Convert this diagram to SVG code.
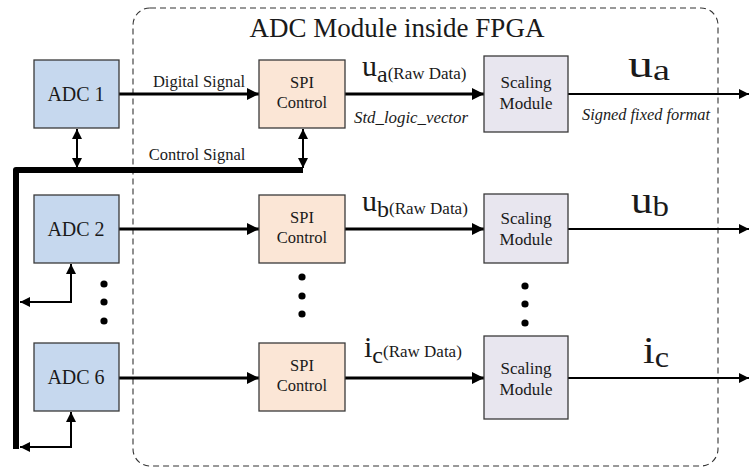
<svg xmlns="http://www.w3.org/2000/svg" width="749" height="468" viewBox="0 0 749 468">
<defs>
<marker id="ah" markerUnits="userSpaceOnUse" markerWidth="13" markerHeight="12" refX="12" refY="6" orient="auto-start-reverse"><path d="M0,0 L12,6 L0,12 z" fill="#000"/></marker>
<marker id="as" markerUnits="userSpaceOnUse" markerWidth="11" markerHeight="10" refX="10" refY="5" orient="auto-start-reverse"><path d="M0,0 L10,5 L0,10 z" fill="#000"/></marker>
</defs>
<rect width="749" height="468" fill="#fff"/>
<g id="fpga">
<rect x="133" y="8" width="585" height="458" rx="17" fill="none" stroke="#333" stroke-width="1.1" stroke-dasharray="6,4"/>
<text x="397" y="37" font-family="Liberation Serif" font-size="27" text-anchor="middle" fill="#1a1a1a">ADC Module inside FPGA</text>
</g>
<g id="connectors" stroke="#000" fill="none">
<path d="M303,170 L16,170 L16,449" stroke-width="6" stroke-linejoin="round"/>
<g stroke-width="2" marker-start="url(#as)" marker-end="url(#as)">
<line x1="77" y1="129" x2="77" y2="168"/>
<line x1="303" y1="129" x2="303" y2="168"/>
<path d="M71,264 L71,302 L20,302"/>
<path d="M71,412 L71,447 L20,447"/>
</g>
<g stroke-width="3" marker-end="url(#ah)">
<line x1="119" y1="94" x2="259" y2="94"/>
<line x1="119" y1="229" x2="259" y2="229"/>
<line x1="119" y1="378" x2="259" y2="378"/>
<line x1="345" y1="94" x2="484" y2="94"/>
<line x1="345" y1="229" x2="484" y2="229"/>
<line x1="345" y1="378" x2="484" y2="378"/>
</g>
<g stroke-width="2" marker-end="url(#as)">
<line x1="568" y1="94" x2="749" y2="94"/>
<line x1="568" y1="229" x2="749" y2="229"/>
<line x1="568" y1="378" x2="749" y2="378"/>
</g>
<g fill="#000" stroke="none">
<circle cx="104" cy="284" r="3.6"/><circle cx="104" cy="302" r="3.6"/><circle cx="104" cy="321" r="3.6"/>
<circle cx="302" cy="277" r="3.6"/><circle cx="302" cy="296" r="3.6"/><circle cx="302" cy="314" r="3.6"/>
<circle cx="525" cy="286" r="3.6"/><circle cx="525" cy="304" r="3.6"/><circle cx="525" cy="323" r="3.6"/>
</g>
</g>
<g id="labels" fill="#1a1a1a">
<text x="199" y="87" font-family="Liberation Serif" font-size="16.5" text-anchor="middle">Digital Signal</text>
<text x="197" y="160" font-family="Liberation Serif" font-size="16.5" text-anchor="middle">Control Signal</text>
<text x="411" y="123" font-family="Liberation Serif" font-size="16" font-style="italic" text-anchor="middle" textLength="114" lengthAdjust="spacingAndGlyphs">Std_logic_vector</text>
<text x="646" y="120" font-family="Liberation Serif" font-size="16" font-style="italic" text-anchor="middle" textLength="128" lengthAdjust="spacingAndGlyphs">Signed fixed format</text>
<text x="362" y="76" font-family="Liberation Serif"><tspan font-size="30">u</tspan><tspan font-size="24" dy="6">a</tspan><tspan font-size="17" dy="-3">(Raw Data)</tspan></text>
<text x="362" y="211" font-family="Liberation Serif"><tspan font-size="30">u</tspan><tspan font-size="24" dy="6">b</tspan><tspan font-size="17" dy="-3">(Raw Data)</tspan></text>
<text x="364" y="357" font-family="Liberation Serif"><tspan font-size="30">i</tspan><tspan font-size="24" dy="6">c</tspan><tspan font-size="17" dy="-6">(Raw Data)</tspan></text>
<text x="628" y="77" font-family="Liberation Serif" font-size="38" textLength="42" lengthAdjust="spacingAndGlyphs">u<tspan font-size="29" dy="3">a</tspan></text>
<text x="631" y="213" font-family="Liberation Serif" font-size="38" textLength="38" lengthAdjust="spacingAndGlyphs">u<tspan font-size="29" dy="3">b</tspan></text>
<text x="643" y="363" font-family="Liberation Serif" font-size="38" textLength="26" lengthAdjust="spacingAndGlyphs">i<tspan font-size="29" dy="4">c</tspan></text>
</g>
<g id="adc1"><rect x="34" y="60" width="85" height="68" fill="#c6d8ee" stroke="#3a3a3a" stroke-width="1.3"/><text x="76" y="101" font-family="Liberation Serif" font-size="20" text-anchor="middle" fill="#1a1a1a">ADC 1</text></g>
<g id="adc2"><rect x="34" y="195" width="85" height="68" fill="#c6d8ee" stroke="#3a3a3a" stroke-width="1.3"/><text x="76" y="236" font-family="Liberation Serif" font-size="20" text-anchor="middle" fill="#1a1a1a">ADC 2</text></g>
<g id="adc6"><rect x="34" y="343" width="85" height="68" fill="#c6d8ee" stroke="#3a3a3a" stroke-width="1.3"/><text x="76" y="384" font-family="Liberation Serif" font-size="20" text-anchor="middle" fill="#1a1a1a">ADC 6</text></g>
<g id="spi1"><rect x="259" y="60" width="86" height="68" fill="#fbe6d6" stroke="#3a3a3a" stroke-width="1.3"/><text x="302" y="88" font-family="Liberation Serif" font-size="16.5" text-anchor="middle" fill="#1a1a1a">SPI</text><text x="302" y="108" font-family="Liberation Serif" font-size="16.5" text-anchor="middle" fill="#1a1a1a">Control</text></g>
<g id="spi2"><rect x="259" y="195" width="86" height="68" fill="#fbe6d6" stroke="#3a3a3a" stroke-width="1.3"/><text x="302" y="223" font-family="Liberation Serif" font-size="16.5" text-anchor="middle" fill="#1a1a1a">SPI</text><text x="302" y="243" font-family="Liberation Serif" font-size="16.5" text-anchor="middle" fill="#1a1a1a">Control</text></g>
<g id="spi6"><rect x="259" y="343" width="86" height="68" fill="#fbe6d6" stroke="#3a3a3a" stroke-width="1.3"/><text x="302" y="371" font-family="Liberation Serif" font-size="16.5" text-anchor="middle" fill="#1a1a1a">SPI</text><text x="302" y="391" font-family="Liberation Serif" font-size="16.5" text-anchor="middle" fill="#1a1a1a">Control</text></g>
<g id="scl1"><rect x="484" y="56" width="84" height="76" fill="#e8e6ef" stroke="#3a3a3a" stroke-width="1.3"/><text x="526" y="88" font-family="Liberation Serif" font-size="17" text-anchor="middle" fill="#1a1a1a">Scaling</text><text x="526" y="109" font-family="Liberation Serif" font-size="17" text-anchor="middle" fill="#1a1a1a">Module</text></g>
<g id="scl2"><rect x="484" y="194" width="84" height="69" fill="#e8e6ef" stroke="#3a3a3a" stroke-width="1.3"/><text x="526" y="224" font-family="Liberation Serif" font-size="17" text-anchor="middle" fill="#1a1a1a">Scaling</text><text x="526" y="245" font-family="Liberation Serif" font-size="17" text-anchor="middle" fill="#1a1a1a">Module</text></g>
<g id="scl6"><rect x="484" y="336" width="84" height="83" fill="#e8e6ef" stroke="#3a3a3a" stroke-width="1.3"/><text x="526" y="374" font-family="Liberation Serif" font-size="17" text-anchor="middle" fill="#1a1a1a">Scaling</text><text x="526" y="395" font-family="Liberation Serif" font-size="17" text-anchor="middle" fill="#1a1a1a">Module</text></g>
</svg>
